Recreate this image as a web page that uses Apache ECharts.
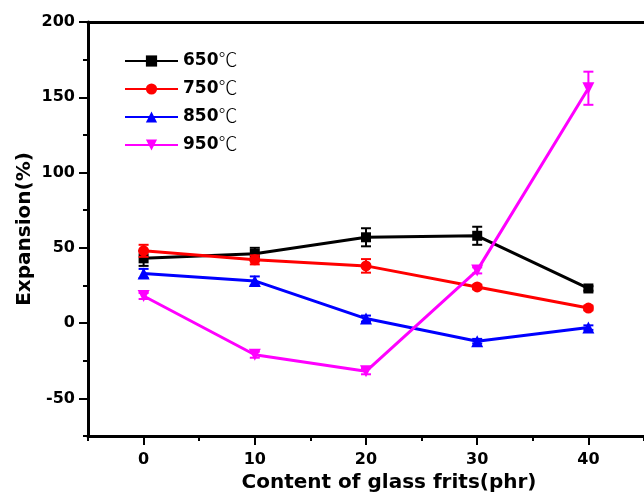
<!DOCTYPE html>
<html>
<head>
<meta charset="utf-8">
<script src="https://cdn.jsdelivr.net/npm/echarts@6/dist/echarts.min.js"></script>
<style>
  html, body { margin: 0; padding: 0; background: #fff; }
  #chart { width: 644px; height: 501px; }
</style>
</head>
<body>
<div id="chart"></div>
<script>
// data
const contents = [0, 10, 20, 30, 40];
const names = ['650℃', '750℃', '850℃', '950℃'];
const exp650 = [43, 46, 57, 58, 23];
const err650 = [5, 4, 6, 6, 1.5];
const exp750 = [48, 42, 38, 24, 10];
const err750 = [4, 3, 4.5, 1.5, 1.5];
const exp850 = [33, 28, 3, -12, -3];
const err850 = [3, 3, 2, 1.5, 1.5];
const exp950 = [18, -21, -32, 35, 156];
const err950 = [2, 2, 2, 2, 11];
const xMajorTicks = [0, 10, 20, 30, 40];
const yMajorTicks = [-50, 0, 50, 100, 150, 200];

const colors = ['#000000', '#ff0000', '#0000ff', '#ff00ff'];
const symbols = ['rect', 'circle', 'triangle', 'triangle'];
const symbolSizes = [10, 11, 12, 12];
const rotates = [0, 0, 0, 180];
const values = [exp650, exp750, exp850, exp950];
const errors = [err650, err750, err850, err950];

const chart = echarts.init(document.getElementById('chart'));
const font = 'DejaVu Sans, sans-serif';

const lineSeries = names.map((n, i) => ({
  name: n,
  type: 'line',
  data: contents.map((c, j) => [c, values[i][j]]),
  symbol: symbols[i],
  symbolSize: symbolSizes[i],
  symbolRotate: rotates[i],
  lineStyle: { color: colors[i], width: 3 },
  itemStyle: { color: colors[i] },
  z: 3 + i
}));

const errSeries = names.map((n, i) => ({
  type: 'custom',
  data: contents.map((c, j) => [c, values[i][j], errors[i][j]]),
  z: 3 + i,
  silent: true,
  renderItem: function (params, api) {
    const x = api.value(0), y = api.value(1), e = api.value(2);
    const top = api.coord([x, y + e]);
    const bot = api.coord([x, y - e]);
    const w = 5;
    const style = { stroke: colors[i], lineWidth: 2 };
    return {
      type: 'group',
      children: [
        { type: 'line', shape: { x1: top[0], y1: top[1], x2: bot[0], y2: bot[1] }, style: style },
        { type: 'line', shape: { x1: top[0] - w, y1: top[1], x2: top[0] + w, y2: top[1] }, style: style },
        { type: 'line', shape: { x1: bot[0] - w, y1: bot[1], x2: bot[0] + w, y2: bot[1] }, style: style }
      ]
    };
  }
}));

const option = {
  backgroundColor: '#fff',
  animation: false,
  grid: { left: 88, top: 22, bottom: 65, right: -9.5 },
  legend: {
    data: names,
    orient: 'vertical',
    left: 124,
    top: 50,
    padding: 0,
    itemWidth: 53,
    itemHeight: 14,
    itemGap: 6,
    formatter: function (name) {
      return '{b|' + name.replace('℃', '') + '}{c|℃}';
    },
    textStyle: {
      rich: {
        b: { fontFamily: font, fontWeight: 'bold', fontSize: 17, lineHeight: 18, verticalAlign: 'middle', color: '#000' },
        c: { fontFamily: 'Noto Sans CJK SC, sans-serif', fontWeight: 300, fontSize: 19, lineHeight: 18, verticalAlign: 'middle', color: '#000', padding: [0, 0, 3, 0] }
      }
    }
  },
  xAxis: [
    {
      type: 'value', min: -5, max: 45, position: 'bottom',
      name: 'Content of glass frits(phr)',
      nameLocation: 'middle', nameGap: 35,
      nameTextStyle: { fontFamily: font, fontWeight: 'bold', fontSize: 20, color: '#000', padding: [0, 0, 0, 46] },
      axisLine: { onZero: false, lineStyle: { color: '#000', width: 3 } },
      axisTick: { customValues: xMajorTicks, length: 9, lineStyle: { width: 2, color: '#000' } },
      axisLabel: { customValues: xMajorTicks, margin: 16, fontFamily: font, fontWeight: 'bold', fontSize: 16, color: '#000' },
      splitLine: { show: false }
    },
    {
      type: 'value', min: -5, max: 45, interval: 5, position: 'bottom',
      axisLine: { show: false, onZero: false },
      axisTick: { length: 5, lineStyle: { width: 2, color: '#000' } },
      axisLabel: { show: false },
      splitLine: { show: false }
    },
    {
      type: 'value', min: -5, max: 45, position: 'top',
      axisLine: { onZero: false, lineStyle: { color: '#000', width: 3 } },
      axisTick: { show: false },
      axisLabel: { show: false },
      splitLine: { show: false }
    }
  ],
  yAxis: [
    {
      type: 'value', min: -75, max: 200, position: 'left',
      name: 'Expansion(%)',
      nameLocation: 'middle', nameGap: 53, nameMoveOverlap: false,
      nameTextStyle: { fontFamily: font, fontWeight: 'bold', fontSize: 20, color: '#000' },
      axisLine: { onZero: false, lineStyle: { color: '#000', width: 3 } },
      axisTick: { customValues: yMajorTicks, length: 9, lineStyle: { width: 2, color: '#000' } },
      axisLabel: { customValues: yMajorTicks, margin: 13, fontFamily: font, fontWeight: 'bold', fontSize: 16, color: '#000' },
      splitLine: { show: false }
    },
    {
      type: 'value', min: -75, max: 200, interval: 25, position: 'left',
      axisLine: { show: false, onZero: false },
      axisTick: { length: 5, lineStyle: { width: 2, color: '#000' } },
      axisLabel: { show: false },
      splitLine: { show: false }
    }
  ],
  series: lineSeries.concat(errSeries)
};

chart.setOption(option);
</script>
</body>
</html>
